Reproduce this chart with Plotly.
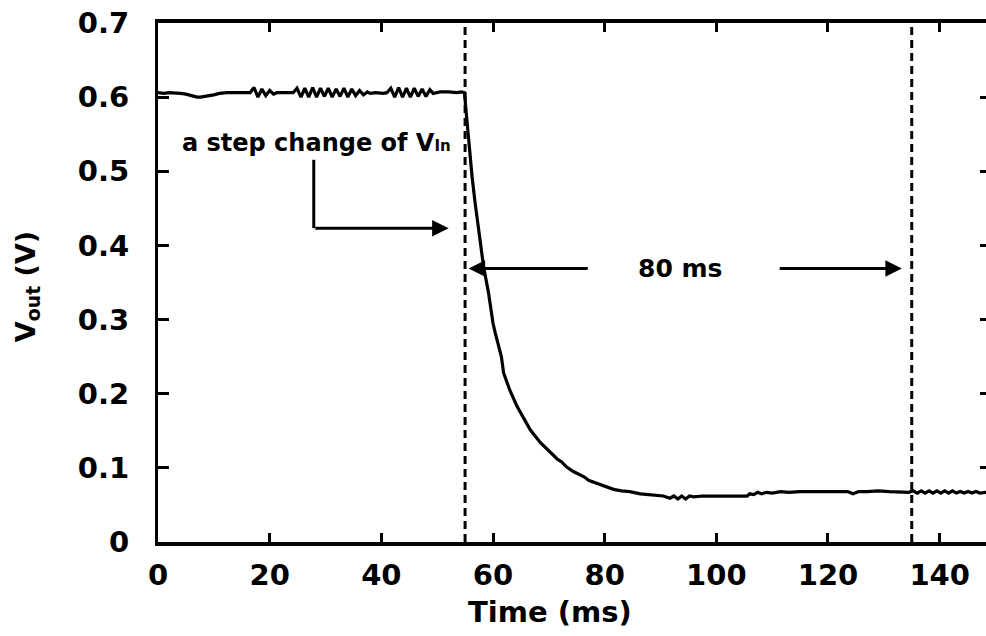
import plotly.graph_objects as go

# ---------------- data ----------------
time_ms = [
    0, 1, 2, 3, 4, 5, 6, 7, 7.6, 8.5, 10, 11, 12.4, 14, 15.5, 16.5,
    17.2, 17.9, 18.6, 19.3, 20.0, 20.7, 21.3, 22.5, 24.2,
    24.9, 25.6, 26.3, 27.0, 27.7, 28.4, 29.1, 29.8, 30.5, 31.2, 31.9, 32.6,
    33.3, 34.0, 34.7, 35.4, 36.1, 36.8, 37.5, 38.0, 39.0, 40.3, 41.0,
    41.7, 42.4, 43.1, 43.8, 44.5, 45.2, 45.9, 46.6, 47.3, 48.0, 48.7, 49.3,
    50.5, 52, 53.5, 54.3, 54.9,
    55.2, 55.65, 56.25, 56.8, 57.5, 58.3, 59.2, 60.0, 60.4, 61.5, 61.9,
    63.0, 64.3, 65.5, 66.7, 68.5, 70.3, 71.5, 72.3, 73.2, 74.4, 75.5, 76.3,
    77.2, 78.0, 79.3, 80.5, 81.6, 83.0, 84.5, 86.4, 88.5, 90.5, 91.7, 92.4,
    93.1, 93.8, 94.5, 95.2, 95.9, 97.5, 100, 102.5, 104.3, 105.5, 106, 106.7,
    107.4, 108.1, 109, 110, 111.5, 113, 115, 117, 119, 120.5, 122, 123.5,
    124.5, 125.5, 127, 129, 131, 133, 134.5, 135.2, 136, 136.7, 137.4, 138.1,
    138.8, 139.5, 140.2, 140.9, 141.6, 142.3, 143, 143.7, 144.4, 145.1, 145.8,
    146.5, 147.2, 148.5,
]
v_out = [
    0.606, 0.605, 0.606, 0.606, 0.605, 0.604, 0.602, 0.600, 0.600, 0.601, 0.603, 0.605, 0.606, 0.606, 0.606, 0.606,
    0.613, 0.600, 0.611, 0.602, 0.609, 0.604, 0.606, 0.606, 0.606,
    0.612, 0.600, 0.612, 0.600, 0.613, 0.600, 0.612, 0.601, 0.612, 0.600, 0.611, 0.601,
    0.612, 0.600, 0.611, 0.602, 0.609, 0.603, 0.607, 0.605, 0.606, 0.605, 0.606,
    0.612, 0.600, 0.613, 0.600, 0.612, 0.600, 0.612, 0.601, 0.611, 0.601, 0.610, 0.605,
    0.607, 0.607, 0.606, 0.607, 0.606,
    0.579, 0.538, 0.493, 0.457, 0.417, 0.372, 0.336, 0.295, 0.282, 0.250, 0.228,
    0.205, 0.183, 0.166, 0.151, 0.134, 0.120, 0.112, 0.108, 0.101, 0.095, 0.091, 0.088,
    0.083, 0.081, 0.077, 0.074, 0.071, 0.069, 0.068, 0.065, 0.063, 0.062, 0.059, 0.062,
    0.058, 0.062, 0.058, 0.062, 0.061, 0.062, 0.062, 0.062, 0.062, 0.062, 0.065, 0.064,
    0.067, 0.065, 0.067, 0.066, 0.068, 0.067, 0.068, 0.068, 0.068, 0.067, 0.068, 0.068,
    0.065, 0.068, 0.068, 0.069, 0.068, 0.068, 0.067, 0.069, 0.066, 0.069, 0.066, 0.069,
    0.066, 0.069, 0.066, 0.069, 0.066, 0.069, 0.066, 0.068, 0.066, 0.068, 0.066,
    0.068, 0.066, 0.067,
]

marker_times = [55, 135]          # dashed vertical lines (ms)
x_ticks = [0, 20, 40, 60, 80, 100, 120, 140]
y_ticks = [0, 0.1, 0.2, 0.3, 0.4, 0.5, 0.6, 0.7]
y_tick_labels = ["0", "0.1", "0.2", "0.3", "0.4", "0.5", "0.6", "0.7"]

FONT = "DejaVu Sans"

fig = go.Figure()

fig.add_trace(go.Scatter(
    x=time_ms, y=v_out, mode="lines",
    line=dict(color="black", width=3.2), showlegend=False, hoverinfo="skip",
))

for t in marker_times:
    fig.add_trace(go.Scatter(
        x=[t, t], y=[y_ticks[0], y_ticks[-1]], mode="lines", yaxis="y2",
        line=dict(color="black", width=3, dash="8px,5px"),
        showlegend=False, hoverinfo="skip",
    ))

tickfont = dict(family=FONT, size=29, color="black", weight="bold")

fig.update_layout(
    width=986, height=636,
    margin=dict(l=158, r=0, t=23, b=94, pad=0),
    paper_bgcolor="white", plot_bgcolor="white",
    xaxis=dict(
        range=[0, 148.3], tickvals=x_ticks, ticktext=[str(v) for v in x_ticks],
        ticks="inside", ticklen=9, tickwidth=3, tickcolor="black",
        showline=True, linewidth=3.5, linecolor="black", mirror="ticks",
        showgrid=False, zeroline=False, tickfont=tickfont, ticklabelstandoff=4,
    ),
    yaxis=dict(
        range=[0, 0.7], tickvals=y_ticks, ticktext=y_tick_labels,
        ticks="inside", ticklen=11, tickwidth=3, tickcolor="black",
        showline=True, linewidth=3, linecolor="black", mirror=False,
        showgrid=False, zeroline=False, tickfont=tickfont, ticklabelstandoff=20,
    ),
    yaxis2=dict(
        range=[0, 0.7], tickvals=y_ticks, overlaying="y", side="right",
        ticks="inside", ticklen=6, tickwidth=3, tickcolor="black",
        showticklabels=False, showline=False, showgrid=False, zeroline=False,
    ),
)

# axis titles
fig.add_annotation(
    text="Time (ms)", xref="paper", yref="paper", x=0.4734, y=0, yshift=-70,
    xanchor="center", yanchor="middle", showarrow=False,
    font=dict(family=FONT, size=29, color="black", weight="bold"),
)
fig.add_annotation(
    text="V<sub>out</sub> (V)", xref="paper", yref="paper", x=0, xshift=-131, y=0.491,
    xanchor="center", yanchor="middle", textangle=-90, showarrow=False,
    font=dict(family=FONT, size=27, color="black", weight="bold"),
)

# "a step change of V_In" label and bent arrow
fig.add_annotation(
    text="a step change of V<span style='font-size:15px'>In</span>",
    x=4.0, y=0.5385, xanchor="left", yanchor="middle", showarrow=False,
    font=dict(family=FONT, size=24, color="black", weight="bold"),
)
fig.add_shape(type="line", x0=27.9, x1=27.9, y0=0.5155, y1=0.4233,
              line=dict(color="black", width=3))
fig.add_annotation(
    text="", x=52.05, y=0.4233, ax=27.9, ay=0.4233, axref="x", ayref="y",
    showarrow=True, arrowhead=2, arrowsize=1.1, arrowwidth=3, arrowcolor="black",
)

# "80 ms" label and arrows
fig.add_annotation(
    text="80 ms", x=93.5, y=0.369, xanchor="center", yanchor="middle", showarrow=False,
    font=dict(family=FONT, size=25, color="black", weight="bold"),
)
fig.add_annotation(
    text="", x=55.63, y=0.369, ax=77.24, ay=0.369, axref="x", ayref="y",
    showarrow=True, arrowhead=2, arrowsize=1.1, arrowwidth=3, arrowcolor="black",
)
fig.add_annotation(
    text="", x=133.23, y=0.369, ax=111.08, ay=0.369, axref="x", ayref="y",
    showarrow=True, arrowhead=2, arrowsize=1.1, arrowwidth=3, arrowcolor="black",
)

fig.write_html("out.html")
